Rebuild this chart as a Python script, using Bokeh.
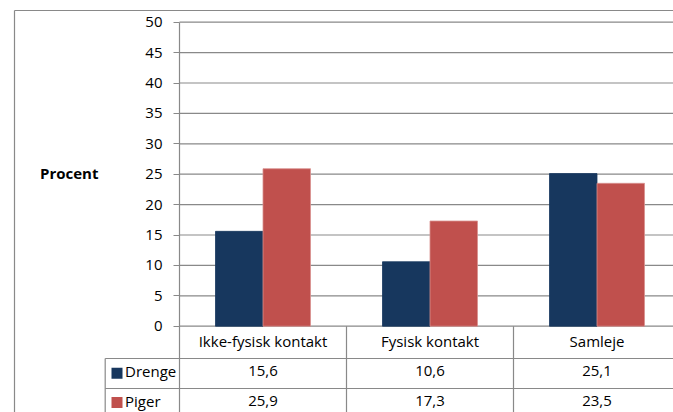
import numpy as np
from bokeh.plotting import figure
from bokeh.models import Range1d, FixedTicker
from bokeh.core.properties import value
from bokeh.embed import file_html
from bokeh.resources import INLINE

# ---------------- data ----------------
categories = ["Ikke-fysisk kontakt", "Fysisk kontakt", "Samleje"]
series_names = ["Drenge", "Piger"]
drenge = [15.6, 10.6, 25.1]
piger = [25.9, 17.3, 23.5]
y_ticks = [0, 5, 10, 15, 20, 25, 30, 35, 40, 45, 50]
y_label = "Procent"

# ---------------- style / layout ----------------
C_DRENGE = "#17375E"
C_PIGER = "#C0504D"
C_LINE = "#898989"
FONT = "Open Sans"

W, H = 673, 412          # canvas size
OFF = 0                  # canvas origin in picture
AXIS_PX = 179.0          # x of value axis
COL_PX = 167.0           # width of one category column in px
ZERO_PX = 325.7          # y of value 0
UNIT_PX = 6.08           # px per percent


def dx(px):
    return (px - AXIS_PX) / COL_PX


def dy(py):
    return (ZERO_PX - py) / UNIT_PX


p = figure(width=W, height=H, output_backend="svg", toolbar_location=None,
           x_range=Range1d(dx(OFF), dx(OFF + W)),
           y_range=Range1d(dy(OFF + H), dy(OFF)),
           x_axis_location=None, min_border=0,
           background_fill_color="white", border_fill_color="white",
           outline_line_color=None)
p.min_border_left = p.min_border_right = p.min_border_top = p.min_border_bottom = 0
p.xgrid.visible = False
p.ygrid.visible = False

n = len(categories)
centers = np.arange(n) + 0.5
bar_w = 47.5 / COL_PX
y_top = y_ticks[-1]
x_end = float(n)

# gridlines (from the tick list)
p.segment(x0=[0.0] * len(y_ticks), y0=y_ticks, x1=[x_end] * len(y_ticks), y1=y_ticks,
          line_color=C_LINE, line_width=1.2)

# bars
p.vbar(x=centers - bar_w / 2, top=drenge, width=bar_w, bottom=0,
       fill_color=C_DRENGE, line_color=C_DRENGE, line_width=0.8)
p.vbar(x=centers + bar_w / 2, top=piger, width=bar_w, bottom=0,
       fill_color=C_PIGER, line_color="#D8908E", line_width=0.8)

# y axis fixed at x = 0
ax = p.yaxis[0]
ax.fixed_location = 0
ax.bounds = (0, y_top)
ax.ticker = FixedTicker(ticks=y_ticks, minor_ticks=[])
ax.major_tick_in = 0
ax.major_tick_out = 6
ax.minor_tick_out = 0
ax.minor_tick_in = 0
ax.axis_line_color = C_LINE
ax.axis_line_width = 1.2
ax.major_tick_line_color = C_LINE
ax.major_tick_line_width = 1.2
ax.major_label_text_font = FONT
ax.major_label_text_font_size = "15px"
ax.major_label_text_color = "#000000"
ax.major_label_standoff = 11

# ---------------- data table ----------------
row1_bot = dy(358)
row2_bot = dy(388)
bottom = dy(OFF + H + 10)
leg_left = dx(104.7)
border_x = dx(14)
border_y = dy(10)

hx0 = [leg_left, leg_left, border_x]
hy = [row1_bot, row2_bot, border_y]
hx1 = [x_end, x_end, x_end]
p.segment(x0=hx0, y0=hy, x1=hx1, y1=hy, line_color=C_LINE, line_width=1.2)

vx = [leg_left, 0.0] + [float(i + 1) for i in range(n)] + [border_x]
vy0 = [row1_bot, 0.0] + [0.0] * n + [border_y]
p.segment(x0=vx, y0=vy0, x1=vx, y1=[bottom] * len(vx), line_color=C_LINE, line_width=1.2)


def fmt(v):
    return f"{v:.1f}".replace(".", ",")


cat_y = dy(340.5)
dr_y = dy(370.8)
pg_y = dy(400.3)

p.text(x=centers, y=[cat_y] * n, text=categories, text_align="center",
       text_baseline="middle", text_font=value(FONT), text_font_size=value("15px"),
       text_color="#000000")
p.text(x=centers, y=[dr_y] * n, text=[fmt(v) for v in drenge], text_align="center",
       text_baseline="middle", text_font=value(FONT), text_font_size=value("15px"),
       text_color="#000000")
p.text(x=centers, y=[pg_y] * n, text=[fmt(v) for v in piger], text_align="center",
       text_baseline="middle", text_font=value(FONT), text_font_size=value("15px"),
       text_color="#000000")

# legend keys in the table
p.scatter(x=[dx(116.5)] * 2, y=[dy(372.8), dy(402)], marker="square", size=11,
          fill_color=[C_DRENGE, C_PIGER], line_color=None)
p.text(x=[dx(124.5)] * 2, y=[dr_y, pg_y], text=series_names, text_align="left",
       text_baseline="middle", text_font=value(FONT), text_font_size=value("15px"),
       text_color="#000000")

# value axis title
p.text(x=[dx(68.7)], y=[dy(172.5)], text=[y_label], text_align="center",
       text_baseline="middle", text_font=value(FONT), text_font_size=value("15px"),
       text_font_style="bold", text_color="#000000")

open("out.html", "w").write(file_html(p, INLINE))
